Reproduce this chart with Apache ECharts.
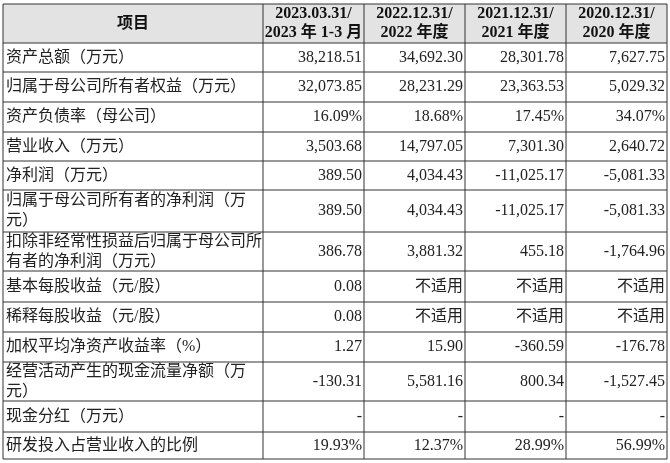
<!DOCTYPE html>
<html><head><meta charset="utf-8">
<script src="https://cdn.jsdelivr.net/npm/echarts@6/dist/echarts.min.js"></script>
<style>html,body{margin:0;padding:0;background:#fff}#c{width:670px;height:463px}</style>
</head><body><div id="c"></div>
<script>
const headers = ['项目', '2023.03.31/\n2023 年 1-3 月', '2022.12.31/\n2022 年度', '2021.12.31/\n2021 年度', '2020.12.31/\n2020 年度'];
const items = ['资产总额（万元）', '归属于母公司所有者权益（万元）', '资产负债率（母公司）', '营业收入（万元）', '净利润（万元）',
  '归属于母公司所有者的净利润（万\n元）', '扣除非经常性损益后归属于母公司所\n有者的净利润（万元）', '基本每股收益（元/股）', '稀释每股收益（元/股）',
  '加权平均净资产收益率（%）', '经营活动产生的现金流量净额（万\n元）', '现金分红（万元）', '研发投入占营业收入的比例'];
const col2023 = ['38,218.51', '32,073.85', '16.09%', '3,503.68', '389.50', '389.50', '386.78', '0.08', '0.08', '1.27', '-130.31', '-', '19.93%'];
const col2022 = ['34,692.30', '28,231.29', '18.68%', '14,797.05', '4,034.43', '4,034.43', '3,881.32', '不适用', '不适用', '15.90', '5,581.16', '-', '12.37%'];
const col2021 = ['28,301.78', '23,363.53', '17.45%', '7,301.30', '-11,025.17', '-11,025.17', '455.18', '不适用', '不适用', '-360.59', '800.34', '-', '28.99%'];
const col2020 = ['7,627.75', '5,029.32', '34.07%', '2,640.72', '-5,081.33', '-5,081.33', '-1,764.96', '不适用', '不适用', '-176.78', '-1,527.45', '-', '56.99%'];

const colX = [3, 263, 364, 465, 566, 667];
const rowY = [4, 43, 72, 102, 132, 161, 190, 232, 271, 302, 332, 362, 401, 432, 459];
const font = '"Liberation Serif", "Noto Sans CJK SC", serif';
const cols = [items, col2023, col2022, col2021, col2020];
const g = [];
g.push({type: 'rect', shape: {x: colX[0], y: rowY[0], width: colX[5] - colX[0], height: rowY[1] - rowY[0]}, style: {fill: '#e3e3e3'}});
headers.forEach((h, i) => {
  g.push({type: 'text', x: (colX[i] + colX[i + 1]) / 2, y: (rowY[0] + rowY[1]) / 2,
    style: {text: h, fill: '#111', font: 'bold 16px ' + font, align: 'center', verticalAlign: 'middle', lineHeight: 19}});
});
for (let r = 0; r < items.length; r++) {
  const cy = (rowY[r + 1] + rowY[r + 2]) / 2;
  cols.forEach((col, c) => {
    const left = c === 0;
    g.push({type: 'text', x: left ? colX[0] + 3 : colX[c + 1] - 2, y: cy,
      style: {text: col[r], fill: '#222', font: '16px ' + font, align: left ? 'left' : 'right', verticalAlign: 'middle', lineHeight: 20}});
  });
}
rowY.forEach(y => g.push({type: 'line', shape: {x1: colX[0], y1: y, x2: colX[5], y2: y}, style: {stroke: '#333', lineWidth: 1}}));
colX.forEach(x => g.push({type: 'line', shape: {x1: x, y1: rowY[0], x2: x, y2: rowY[rowY.length - 1]}, style: {stroke: '#333', lineWidth: 1}}));

const chart = echarts.init(document.getElementById('c'));
chart.setOption({graphic: {elements: g}});
</script></body></html>
